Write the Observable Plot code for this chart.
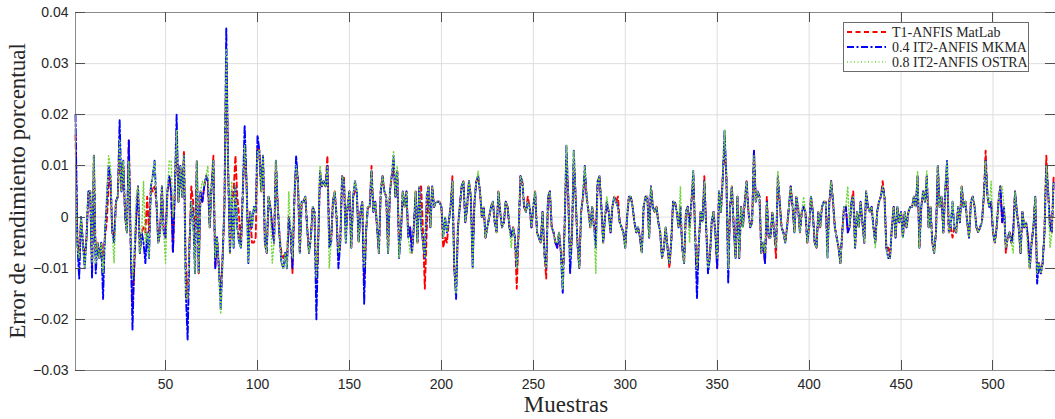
<!DOCTYPE html>
<html>
<head>
<meta charset="utf-8">
<script src="https://cdn.jsdelivr.net/npm/d3@7"></script>
<script src="https://cdn.jsdelivr.net/npm/@observablehq/plot@0.6"></script>
<style>
  html, body { margin: 0; padding: 0; background: #fff; }
  #wrap { position: relative; width: 1055px; height: 419px; overflow: hidden; }
  #legend { position: absolute; left: 843px; top: 22px; width: 186px; height: 50px;
            background: #fff; border: 1px solid #6b6b6b; box-sizing: border-box; }
</style>
</head>
<body>
<div id="wrap"><div id="legend"></div></div>
<script>
// ---- Data (Error de rendimiento porcentual, muestras 1..533) ----
const seriesNames = ["T1-ANFIS MatLab", "0.4 IT2-ANFIS MKMA", "0.8 IT2-ANFIS OSTRA"];
const xTicks = [50, 100, 150, 200, 250, 300, 350, 400, 450, 500];
const yTicks = [-0.03, -0.02, -0.01, 0, 0.01, 0.02, 0.03, 0.04];

const t1Anfis = [
.016,-.004,-.008,.000,-.005,-.008,-.004,.005,.005,-.010,
.012,-.008,-.005,-.008,-.005,-.008,-.004,-.001,.006,.008,
-.003,-.004,.003,.004,.013,.005,.010,.000,-.003,.015,
-.005,-.017,-.010,.000,.006,-.007,-.003,-.002,-.003,.004,
-.003,.006,.005,.006,.003,-.005,-.003,.006,-.003,-.004,
.005,.008,.005,-.007,.005,.016,.003,.010,.004,.013,
-.010,-.016,-.005,.006,.003,-.006,.011,-.011,.005,.003,
.006,.008,.007,-.002,.006,.012,-.010,-.004,-.010,-.015,
-.008,.002,.030,.010,-.007,.002,.005,.012,.004,.000,
-.006,.005,.013,.007,-.005,.001,-.005,-.005,-.004,.014,
.013,.005,.012,-.005,-.007,.004,.002,-.002,-.005,.011,
.002,-.004,-.007,-.008,-.007,-.008,.000,-.003,-.011,.003,
.010,.007,-.007,.003,.003,.004,-.002,-.007,-.004,.002,
.001,-.013,-.005,.009,.006,.007,.006,.012,-.004,-.005,
.003,.005,.000,-.008,-.005,.008,.008,-.003,.002,.005,
-.006,.004,.005,.005,-.005,.001,.003,-.013,-.003,.002,
.002,.010,.001,.003,-.002,-.007,.005,.008,.005,.004,
-.007,.005,.008,.010,.004,.009,-.006,-.003,.005,.002,
.005,-.004,-.002,-.007,-.002,.005,-.005,.006,.006,-.003,
-.014,-.003,.006,-.002,.006,.002,.003,.003,.003,.002,
-.006,-.004,-.005,-.001,.002,.008,-.010,-.014,-.002,.002,
.006,.007,-.001,.002,.007,.004,-.008,.003,.007,.008,
.005,.000,.002,-.004,-.002,.000,.002,.003,-.001,-.003,
.005,.001,-.002,-.001,.003,.002,-.002,-.004,-.002,-.004,
-.014,-.003,.008,.007,.002,.001,.004,.002,-.002,.002,
.005,-.003,-.004,-.005,.001,-.007,-.012,.004,.005,-.002,
-.003,-.005,-.006,-.003,-.007,-.012,-.002,.011,.004,-.008,
-.004,.011,.004,-.005,-.010,.001,.004,.008,.004,.001,
-.002,.002,-.002,-.003,.007,.008,.002,-.005,.000,.003,
.001,-.003,.002,.004,.003,.004,-.001,-.002,-.003,-.006,
.000,.004,.004,.002,-.001,-.003,-.002,-.004,-.007,.002,
.004,.004,-.004,.006,.002,.001,.002,-.001,-.003,-.008,
-.006,-.002,-.006,-.010,-.005,.003,.003,.001,-.002,.002,
-.006,-.009,.001,.002,-.002,.003,.008,-.003,-.010,-.005,
.001,-.001,.008,-.002,-.009,-.008,-.001,.001,-.003,-.010,
.005,.001,.008,.014,.008,-.010,.002,.006,-.002,-.008,
.004,-.008,.002,-.002,.003,.007,.001,-.002,-.001,.013,
.003,.005,.004,-.007,-.005,-.009,.004,-.004,-.004,.001,
-.003,-.008,.008,.003,-.002,-.003,-.005,-.002,.002,.006,
.002,-.003,.004,.002,-.003,.001,.002,.001,-.005,-.002,
.004,.001,-.005,-.006,.001,-.002,.002,.003,.003,-.006,
.003,.007,.003,-.002,-.004,-.006,-.009,-.003,.002,.002,
-.003,-.002,.003,.005,-.006,.001,-.002,.003,-.001,-.005,
.005,.002,.001,.002,-.002,-.005,.001,.003,.004,.007,
.004,-.006,-.006,-.008,-.002,.002,-.004,.002,-.001,.001,
-.004,.001,-.002,.001,.002,.002,.004,.002,.008,-.006,
.002,.005,.003,.008,-.002,.002,-.005,-.007,-.003,.010,
.002,.004,-.003,.005,.009,-.003,-.002,-.004,-.002,-.003,
.002,-.001,.006,.002,.003,-.001,-.004,.003,.004,.002,
-.002,-.003,-.002,-.001,.004,.013,.004,.002,.003,-.003,
-.005,-.002,.003,.006,-.001,.002,-.007,-.004,-.003,-.005,
-.003,.005,.001,-.002,-.007,.001,-.002,-.001,-.004,-.010,
-.005,-.002,.004,-.011,-.009,-.011,-.009,-.003,.012,.005,
-.002,-.003,.008
];

const it2Mkma = [
.020,-.005,-.012,.000,-.005,-.010,-.004,.005,.005,-.012,
.012,-.011,-.005,-.008,-.005,-.016,-.003,.003,.010,.008,
-.003,-.005,.003,.004,.019,.005,.011,.000,-.003,.015,
-.005,-.022,-.008,.000,.006,-.007,-.003,-.005,-.009,-.003,
-.008,.006,.008,.011,.003,-.005,-.003,.006,-.003,-.004,
.005,.008,.005,-.007,.005,.020,.003,.010,.004,.012,
-.015,-.024,-.005,.003,.000,-.011,.011,-.011,.005,.003,
.006,.008,.007,-.002,.006,.011,-.010,-.004,-.010,-.018,
-.008,.002,.037,.010,-.007,.005,-.006,.006,-.002,-.005,
-.006,.005,.018,.007,-.009,.001,-.002,.002,.001,.016,
.013,.005,.012,-.005,-.007,.004,.002,-.002,-.005,.011,
.002,-.004,-.009,-.010,-.007,-.010,.000,-.003,-.010,.003,
.012,.007,-.007,.003,.003,.004,-.002,-.007,-.004,.002,
.001,-.020,-.005,.009,.006,.007,.006,.010,-.006,-.005,
.003,.005,.000,-.010,-.005,.008,.007,-.005,.002,.005,
-.006,.004,.007,.005,-.005,.001,.003,-.017,-.003,.002,
.002,.009,.001,.003,-.002,-.007,.005,.008,.005,.004,
-.007,.005,.008,.012,.004,.009,-.008,-.003,.005,.002,
.005,-.004,-.002,-.007,-.002,.005,-.005,.006,-.002,-.005,
-.008,.004,.006,-.002,.006,.002,.003,.003,.003,.002,
-.004,.000,-.003,-.001,.002,.007,-.010,-.016,-.002,.002,
.006,.007,-.001,.002,.007,.004,-.010,.003,.007,.008,
.005,.000,.002,-.004,-.002,.000,.002,.003,-.001,-.003,
.005,.001,-.002,-.001,.003,.002,-.002,-.004,-.002,-.004,
-.010,-.003,.008,.007,.002,.001,.003,.002,-.002,.002,
.005,-.003,-.004,-.005,.001,-.007,-.010,.004,.005,-.002,
-.003,-.005,-.006,-.003,-.007,-.015,-.002,.014,.004,-.011,
-.004,.013,.004,-.005,-.010,.001,.004,.010,.004,.001,
-.002,.002,-.002,-.006,.007,.008,.002,-.005,.000,.003,
.001,-.003,.002,.004,.003,.002,-.001,-.002,-.003,-.006,
.000,.004,.004,.002,-.001,-.003,-.002,-.004,-.007,.002,
.004,.004,-.004,.006,.002,.001,.002,-.001,-.003,-.008,
-.006,-.002,-.006,-.009,-.005,.003,.003,.001,-.002,.002,
-.006,-.009,.001,.002,-.002,.003,.009,-.003,-.016,-.005,
.001,-.001,.007,-.002,-.011,-.008,-.001,.001,-.003,-.010,
.005,.001,.007,.017,.008,-.013,.002,.006,-.002,-.008,
.004,-.008,.002,-.002,.003,.007,.001,-.002,-.001,.013,
.003,.005,.004,-.007,-.005,-.009,.003,-.004,-.004,.001,
-.003,-.006,.008,.003,-.002,-.003,-.005,-.002,.002,.006,
.002,-.003,.004,.002,-.003,.001,.002,.001,-.005,-.002,
.004,.001,-.005,-.006,.001,-.002,.002,.003,.003,-.008,
.003,.007,.003,-.002,-.004,-.006,-.009,-.003,.002,.002,
-.003,-.002,.003,.004,-.006,.001,-.002,.003,-.001,-.005,
.005,.002,.001,.002,-.002,-.005,.001,.003,.004,.006,
.004,-.006,-.008,-.008,-.002,.002,-.004,.002,-.001,.001,
-.004,.001,-.002,.001,.002,.002,.004,.002,.008,-.006,
.002,.005,.003,.008,-.002,.002,-.005,-.007,-.003,.010,
.002,.004,-.003,.005,.011,-.003,-.002,.003,-.002,-.003,
.002,-.001,.006,.002,.003,-.001,-.004,.003,.004,.002,
-.002,-.003,-.002,-.001,.004,.011,.004,.002,.003,-.003,
-.005,-.002,.003,.006,-.001,.002,-.006,-.004,-.003,-.005,
-.003,.005,.001,-.002,-.007,.001,-.002,-.001,-.004,-.010,
-.005,-.002,.004,-.013,-.009,-.011,-.009,-.003,.010,.005,
-.002,-.003,.007
];

const it2Ostra = [
.010,-.006,-.008,.000,-.005,-.010,-.004,.005,.005,-.009,
.012,-.009,-.005,-.008,-.005,-.011,-.003,.003,.012,.010,
-.003,-.009,.003,.004,.015,.005,.011,.000,-.003,.011,
-.005,-.012,-.008,.004,.006,-.007,-.003,.007,-.005,-.003,
-.008,.006,.008,.011,.003,-.005,-.003,.006,-.003,-.009,
.005,.011,.011,.000,.005,.017,.003,.010,.004,.012,
-.015,-.016,-.005,.003,.000,-.011,.011,-.011,.005,.007,
.006,.008,.010,-.002,.006,.011,-.008,-.004,-.010,-.019,
-.008,.002,.033,.010,-.007,.007,-.006,.006,-.002,-.005,
-.006,.005,.014,.007,-.009,.001,-.002,.002,.001,.013,
.013,.005,.012,-.005,-.007,.004,.002,-.009,-.005,.011,
.002,-.004,-.009,-.010,-.007,-.010,.005,-.003,-.008,.003,
.010,.007,-.007,.003,.003,.004,-.002,-.007,-.004,.002,
.001,-.012,-.005,.010,.006,.007,.006,.010,-.010,-.005,
.003,.005,.000,-.007,-.005,.008,.007,-.005,.002,.005,
-.006,.004,.007,.005,-.005,.001,.003,-.010,-.003,.002,
.002,.009,.001,.003,-.002,-.007,.005,.008,.005,.004,
-.007,.005,.008,.013,.004,.010,-.008,-.003,.005,.002,
.005,-.004,-.007,-.007,-.002,.005,-.005,.006,-.002,-.005,
-.008,.004,.006,-.002,.006,.002,.003,.003,.003,.002,
-.004,.000,-.003,-.001,.002,.007,-.010,-.015,-.002,.002,
.006,.007,-.001,.002,.007,.004,-.010,.003,.007,.009,
.005,.000,.002,-.004,-.002,.000,.002,.003,-.001,-.003,
.005,.001,-.002,-.001,.003,.002,-.002,-.006,-.002,-.004,
-.010,-.003,.008,.007,.002,.001,.003,.002,-.002,.002,
.005,-.003,-.004,-.005,.001,-.008,-.010,.004,.005,-.002,
-.003,-.005,-.005,-.003,-.007,-.014,-.002,.014,.004,-.008,
-.004,.013,.004,-.005,-.010,.001,.004,.010,.004,.001,
-.002,.002,-.002,-.011,.007,.008,.002,-.005,.000,.004,
.001,-.003,.002,.004,.003,.002,-.001,-.002,-.003,-.006,
.000,.004,.004,.002,-.001,-.003,-.002,-.004,-.007,.002,
.004,.004,-.004,.006,.002,.001,.002,-.001,-.003,-.008,
-.006,-.002,-.006,-.009,-.005,.003,.003,.001,-.002,.006,
-.006,-.009,.001,.002,-.005,.003,.009,-.003,-.010,-.005,
.001,-.001,.007,-.002,-.010,-.008,-.001,.001,-.003,-.008,
.005,.001,.007,.017,.008,-.010,.002,.006,-.002,-.008,
.004,-.008,.002,-.002,.003,.007,.001,-.002,-.001,.012,
.003,.005,.004,-.007,-.005,-.007,.003,-.004,-.004,.001,
-.003,-.006,.009,.003,-.002,-.003,-.005,-.002,.002,.006,
.002,-.003,.004,.002,-.003,.001,.004,.001,-.005,-.002,
.004,.001,-.005,-.006,.001,-.002,.002,.003,.003,-.008,
.003,.007,.003,-.002,-.004,-.006,-.009,-.003,.002,.002,
.006,-.002,.003,.004,-.006,.001,-.002,.003,-.001,-.005,
.005,.002,.001,.002,-.002,-.006,.001,.003,.004,.006,
.004,-.006,-.008,-.008,-.002,.002,-.004,.002,-.001,.001,
-.004,.001,-.002,.001,.002,.002,.004,.002,.009,-.006,
.002,.005,.003,.009,-.002,.002,-.005,-.007,-.003,.010,
.002,.004,-.003,.005,.011,-.003,-.002,.003,-.002,-.003,
.002,-.001,.006,.002,.003,-.001,-.004,.003,.004,.002,
-.002,-.003,-.002,-.001,.004,.011,.004,.002,.007,-.003,
-.005,-.002,.003,.006,.006,.002,-.006,-.004,-.003,-.005,
-.007,.005,.001,-.002,-.007,.001,-.002,-.001,-.007,-.010,
-.005,-.002,.004,-.011,-.009,-.011,-.009,-.003,.010,.005,
-.006,-.003,.007
];

const colors = ["#ff0000", "#0000ff", "#72d53c"];
const dashes = ["5,3.5", "7,2.5,2,2.5", "1,2.5"];
const widths = [1.9, 1.9, 1.5];

(function draw() {
  // ---- Build table ----
  const seriesArrays = [t1Anfis, it2Mkma, it2Ostra];
  const table = seriesArrays.flatMap((arr, s) =>
    arr.map((v, i) => ({muestra: i + 1, error: v, serie: seriesNames[s]})));

  const W = 1055, H = 419;
  const lineMarks = seriesNames.map((name, s) =>
    Plot.lineY(table.filter(d => d.serie === name), {
      x: "muestra", y: "error", stroke: colors[s], strokeWidth: widths[s],
      strokeDasharray: dashes[s], curve: "linear"
    }));

  const fmtY = d => d === 0 ? "0" : d3.format(".2f")(d);

  const plot = Plot.plot({
    width: W, height: H,
    marginLeft: 75, marginRight: 0, marginTop: 12, marginBottom: 49,
    style: {fontFamily: "'Liberation Sans', Arial, sans-serif", fontSize: "14px", color: "#262626", background: "#fff"},
    x: {domain: [1, 534], ticks: xTicks},
    y: {domain: [-0.03, 0.04], ticks: yTicks},
    marks: [
      Plot.gridX(xTicks, {stroke: "#dedede", strokeOpacity: 1}),
      Plot.gridY(yTicks, {stroke: "#dedede", strokeOpacity: 1}),
      ...lineMarks,
      Plot.frame({stroke: "#8a8a8a"}),
      Plot.axisX(xTicks, {tickSize: 0, tickPadding: 9, label: null, fill: "#262626", fontSize: 14}),
      Plot.axisY(yTicks, {tickSize: 0, tickPadding: 7, tickFormat: fmtY, label: null, fill: "#262626", fontSize: 14})
    ]
  });

  document.getElementById("wrap").prepend(plot);

  // inward MATLAB-style tick marks and serif axis labels
  const svg = d3.select(plot);
  const sx = plot.scale("x"), sy = plot.scale("y");
  const pLeft = 75, pRight = W, pTop = 12, pBottom = H - 49, tl = 10;
  const g = svg.append("g").attr("stroke", "#505050").attr("stroke-width", 1);
  xTicks.forEach(t => {
    const x = Math.round(sx.apply(t)) + 0.5;
    g.append("line").attr("x1", x).attr("x2", x).attr("y1", pBottom).attr("y2", pBottom - tl);
    g.append("line").attr("x1", x).attr("x2", x).attr("y1", pTop).attr("y2", pTop + tl);
  });
  yTicks.forEach(t => {
    const y = Math.round(sy.apply(t)) + 0.5;
    g.append("line").attr("x1", pLeft).attr("x2", pLeft + tl).attr("y1", y).attr("y2", y);
    g.append("line").attr("x1", pRight).attr("x2", pRight - tl).attr("y1", y).attr("y2", y);
  });
  svg.append("text")
    .attr("transform", `translate(25,${(pTop + pBottom) / 2}) rotate(-90)`)
    .attr("text-anchor", "middle")
    .attr("font-family", "'Liberation Serif', 'DejaVu Serif', serif")
    .attr("font-size", 23).attr("fill", "#262626")
    .text("Error de rendimiento porcentual");
  svg.append("text")
    .attr("x", 566).attr("y", 412)
    .attr("text-anchor", "middle")
    .attr("font-family", "'Liberation Serif', 'DejaVu Serif', serif")
    .attr("font-size", 23).attr("fill", "#262626")
    .text("Muestras");

  // legend
  const leg = d3.select("#legend").append("svg").attr("width", 186).attr("height", 50);
  seriesNames.forEach((name, s) => {
    const y = 9 + s * 15;
    leg.append("line").attr("x1", 3).attr("x2", 42).attr("y1", y).attr("y2", y)
      .attr("stroke", colors[s]).attr("stroke-width", widths[s]).attr("stroke-dasharray", dashes[s]);
    leg.append("text").attr("x", 48).attr("y", y + 4.5)
      .attr("font-family", "'Liberation Serif', 'DejaVu Serif', serif")
      .attr("font-size", 14).attr("fill", "#262626").text(name);
  });
})();
</script>
</body>
</html>
